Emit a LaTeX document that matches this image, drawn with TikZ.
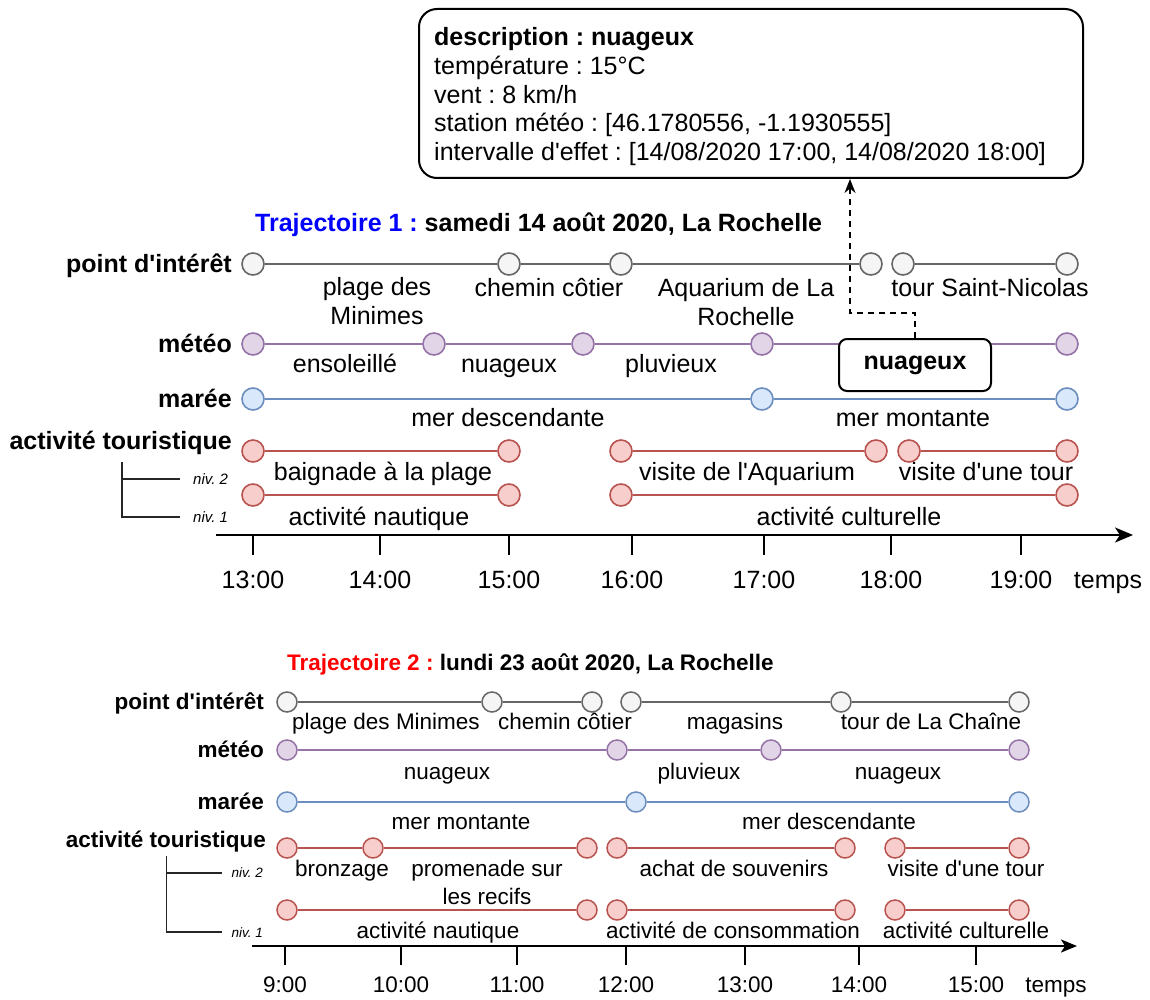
\documentclass[tikz,border=0pt]{standalone}
\usepackage{fontspec}
\setmainfont{Liberation Sans}
\newfontfamily\arial{Liberation Sans}
\usetikzlibrary{arrows.meta}

\definecolor{cGreyF}{HTML}{F5F5F5}
\definecolor{cGreyD}{HTML}{666666}
\definecolor{cPurF}{HTML}{E1D5E7}
\definecolor{cPurD}{HTML}{9673A6}
\definecolor{cBluF}{HTML}{DAE8FC}
\definecolor{cBluD}{HTML}{6C8EBF}
\definecolor{cRedF}{HTML}{F8CECC}
\definecolor{cRedD}{HTML}{B85450}
\definecolor{tBlue}{HTML}{0000FF}
\definecolor{tRed}{HTML}{FF0000}

\newcommand\fsA{\arial\fontsize{25}{28.7}\selectfont}
\newcommand\fsB{\arial\fontsize{22.5}{27.5}\selectfont}
\newcommand\fsN{\arial\fontsize{15}{18}\selectfont\itshape}
\newcommand\fsM{\arial\fontsize{13.5}{16}\selectfont\itshape}

\begin{document}
\frenchspacing
\begin{tikzpicture}[x=1pt, y=-1pt,
  dotA/.style={circle, inner sep=0pt, minimum size=22pt, line width=1.6pt},
  dotB/.style={circle, inner sep=0pt, minimum size=20pt, line width=1.5pt},
  gdot/.style={fill=cGreyF, draw=cGreyD},
  pdot/.style={fill=cPurF, draw=cPurD},
  bdot/.style={fill=cBluF, draw=cBluD},
  rdot/.style={fill=cRedF, draw=cRedD},
  gseg/.style={draw=cGreyD, line width=2pt},
  pseg/.style={draw=cPurD, line width=2pt},
  bseg/.style={draw=cBluD, line width=2pt},
  rseg/.style={draw=cRedD, line width=2pt},
  lblA/.style={font=\fsA, inner sep=0pt, anchor=base, align=center},
  lblB/.style={font=\fsB, inner sep=0pt, anchor=base, align=center},
  headA/.style={font=\fsA\bfseries, inner sep=0pt, anchor=base east},
  headB/.style={font=\fsB\bfseries, inner sep=0pt, anchor=base east},
  nivA/.style={font=\fsN, inner sep=0pt, anchor=base west},
  nivB/.style={font=\fsM, inner sep=0pt, anchor=base west},
  tree/.style={line width=1.6pt, draw=black!85},
  axisA/.style={line width=2.4pt, -{Stealth[length=18pt, width=15pt, inset=5pt]}},
  axisB/.style={line width=2.2pt, -{Stealth[length=16pt, width=13pt, inset=4pt]}},
  tick/.style={line width=2pt},
  callout/.style={draw, rounded corners=8pt, line width=2pt, fill=white},
  link/.style={draw, line width=2pt, dash pattern=on 6pt off 5pt, -{Stealth[length=14pt, width=11pt]}}
]
\useasboundingbox (0,0) rectangle (1150,1000);

% ---------- weather detail box ----------
\node[draw, rounded corners=18pt, line width=2pt, minimum width=664pt, minimum height=169pt,
      inner sep=0pt, anchor=north west] (info) at (418,8) {};
\node[font=\fsA, align=left, inner sep=0pt, anchor=base west] (infotxt) at (434,160.5)
  {\textbf{description : nuageux}\\température : 15°C\\vent : 8 km/h\\station météo : [46.1780556, -1.1930555]\\intervalle d'effet : [14/08/2020 17:00, 14/08/2020 18:00]};

% ================= Trajectoire 1 =================
\node[font=\fsA\bfseries, inner sep=0pt, anchor=base west] (title1) at (255,231.5)
  {\textcolor{tBlue}{Trajectoire 1 :} samedi 14 août 2020, La Rochelle};

\node[headA] (h1poi) at (232,272.5) {point d'intérêt};
\node[headA] (h1met) at (232,352.5) {météo};
\node[headA] (h1mar) at (232,407.5) {marée};
\node[headA] (h1act) at (232,449.5) {activité touristique};

% point d'interet
\foreach \n/\x in {p1/253, p2/509, p3/621, p4/871, p5/903, p6/1067}
  \node[dotA, gdot] (\n) at (\x,264) {};
\foreach \a/\b in {p1/p2, p2/p3, p3/p4, p5/p6}
  \draw[gseg] (\a) -- (\b);
% meteo
\foreach \n/\x in {m1/253, m2/434, m3/583, m4/762, m5/1067}
  \node[dotA, pdot] (\n) at (\x,344) {};
\foreach \a/\b in {m1/m2, m2/m3, m3/m4, m4/m5}
  \draw[pseg] (\a) -- (\b);
% maree
\foreach \n/\x in {t1/253, t2/762, t3/1067}
  \node[dotA, bdot] (\n) at (\x,399) {};
\foreach \a/\b in {t1/t2, t2/t3}
  \draw[bseg] (\a) -- (\b);
% activite niv. 2
\foreach \n/\x in {a1/253, a2/509, a3/621, a4/876, a5/909, a6/1067}
  \node[dotA, rdot] (\n) at (\x,451) {};
\foreach \a/\b in {a1/a2, a3/a4, a5/a6}
  \draw[rseg] (\a) -- (\b);
% activite niv. 1
\foreach \n/\x in {b1/253, b2/509, b3/621, b4/1067}
  \node[dotA, rdot] (\n) at (\x,495) {};
\foreach \a/\b in {b1/b2, b3/b4}
  \draw[rseg] (\a) -- (\b);

% two-line labels are placed by the baseline of their last line
\node[lblA] (lp1) at (377,324.5) {plage des\\Minimes};
\node[lblA] (lp2) at (549,296.5) {chemin côtier};
\node[lblA] (lp3) at (746,325) {Aquarium de La\\Rochelle};
\node[lblA] (lp4) at (990,296.5) {tour Saint-Nicolas};
\node[lblA] (lm1) at (345,372.5) {ensoleillé};
\node[lblA] (lm2) at (509,372.5) {nuageux};
\node[lblA] (lm3) at (671,372.5) {pluvieux};
\node[lblA] (lt1) at (508,426.5) {mer descendante};
\node[lblA] (lt2) at (913,426.5) {mer montante};
\node[lblA] (la1) at (383,480.5) {baignade à la plage};
\node[lblA] (la2) at (747,480.5) {visite de l'Aquarium};
\node[lblA] (la3) at (986,480.5) {visite d'une tour};
\node[lblA] (lb1) at (379,525.5) {activité nautique};
\node[lblA] (lb2) at (849,525.5) {activité culturelle};

% selected weather state
\node[callout, minimum width=152pt, minimum height=52pt, font=\fsA\bfseries] (nb) at (915,365) {nuageux};
\coordinate (bend) at (850,313);
\draw[link] (nb.north) |- (bend) -- (bend |- info.south);

% level tree
\coordinate (tr1a) at (122,462);
\coordinate (tr1c) at (180,479);
\coordinate (tr1d) at (180,517);
\draw[tree] (tr1a) |- (tr1d);
\draw[tree] (tr1c -| tr1a) -- (tr1c);
\node[nivA] (n12) at (193,484) {niv. 2};
\node[nivA] (n11) at (193,522) {niv. 1};

% time axis
\coordinate (ax1s) at (216,535);
\coordinate (ax1e) at (1133,535);
\draw[axisA] (ax1s) -- (ax1e);
\foreach \x/\t in {253/13:00, 380/14:00, 509/15:00, 632/16:00, 764/17:00, 891/18:00, 1021/19:00} {
  \draw[tick] (\x,535) -- (\x,555);
  \node[lblA] (ta\x) at (\x,588.5) {\t};
}
\node[lblA] (temps1) at (1108,588.5) {temps};

% ================= Trajectoire 2 =================
\node[font=\fsB\bfseries, inner sep=0pt, anchor=base west] (title2) at (287,670.5)
  {\textcolor{tRed}{Trajectoire 2 :} lundi 23 août 2020, La Rochelle};

\node[headB] (h2poi) at (264,709.5) {point d'intérêt};
\node[headB] (h2met) at (264,757.5) {météo};
\node[headB] (h2mar) at (264,809.5) {marée};
\node[headB] (h2act) at (266,847.5) {activité touristique};

\foreach \n/\x in {q1/287, q2/492, q3/592, q4/631, q5/841, q6/1019}
  \node[dotB, gdot] (\n) at (\x,702) {};
\foreach \a/\b in {q1/q2, q2/q3, q4/q5, q5/q6}
  \draw[gseg] (\a) -- (\b);
\foreach \n/\x in {n1/287, n2/617, n3/771, n4/1019}
  \node[dotB, pdot] (\n) at (\x,750) {};
\foreach \a/\b in {n1/n2, n2/n3, n3/n4}
  \draw[pseg] (\a) -- (\b);
\foreach \n/\x in {s1/287, s2/636, s3/1019}
  \node[dotB, bdot] (\n) at (\x,802) {};
\foreach \a/\b in {s1/s2, s2/s3}
  \draw[bseg] (\a) -- (\b);
\foreach \n/\x in {c1/287, c2/373, c3/587, c4/617, c5/845, c6/895, c7/1019}
  \node[dotB, rdot] (\n) at (\x,848) {};
\foreach \a/\b in {c1/c2, c2/c3, c4/c5, c6/c7}
  \draw[rseg] (\a) -- (\b);
\foreach \n/\x in {d1/287, d2/587, d3/617, d4/845, d5/895, d6/1019}
  \node[dotB, rdot] (\n) at (\x,910) {};
\foreach \a/\b in {d1/d2, d3/d4, d5/d6}
  \draw[rseg] (\a) -- (\b);

\node[lblB] (kq1) at (386,729.5) {plage des Minimes};
\node[lblB] (kq2) at (565,729.5) {chemin côtier};
\node[lblB] (kq3) at (735,729.5) {magasins};
\node[lblB] (kq4) at (931,729.5) {tour de La Chaîne};
\node[lblB] (kn1) at (447,779.5) {nuageux};
\node[lblB] (kn2) at (699,779.5) {pluvieux};
\node[lblB] (kn3) at (898,779.5) {nuageux};
\node[lblB] (ks1) at (461,829.5) {mer montante};
\node[lblB] (ks2) at (829,829.5) {mer descendante};
\node[lblB] (kc1) at (342,876.5) {bronzage};
\node[lblB] (kc2) at (487,904) {promenade sur\\les recifs};
\node[lblB] (kc3) at (734,876.5) {achat de souvenirs};
\node[lblB] (kc4) at (966,876.5) {visite d'une tour};
\node[lblB] (kd1) at (438,938.5) {activité nautique};
\node[lblB] (kd2) at (733,938.5) {activité de consommation};
\node[lblB] (kd3) at (966,938.5) {activité culturelle};

\coordinate (tr2a) at (166.5,856);
\coordinate (tr2c) at (222,873);
\coordinate (tr2d) at (222,932);
\draw[tree] (tr2a) |- (tr2d);
\draw[tree] (tr2c -| tr2a) -- (tr2c);
\node[nivB] (n22) at (231.5,877.5) {niv. 2};
\node[nivB] (n21) at (231.5,937.5) {niv. 1};

\coordinate (ax2s) at (252,946);
\coordinate (ax2e) at (1077,946);
\draw[axisB] (ax2s) -- (ax2e);
\foreach \x/\t in {285/9:00, 401/10:00, 517/11:00, 626/12:00, 745/13:00, 859/14:00, 976/15:00} {
  \draw[tick] (\x,946) -- (\x,965);
  \node[lblB] (tb\x) at (\x,992.5) {\t};
}
\node[lblB] (temps2) at (1056,992.5) {temps};
\end{tikzpicture}
\end{document}
